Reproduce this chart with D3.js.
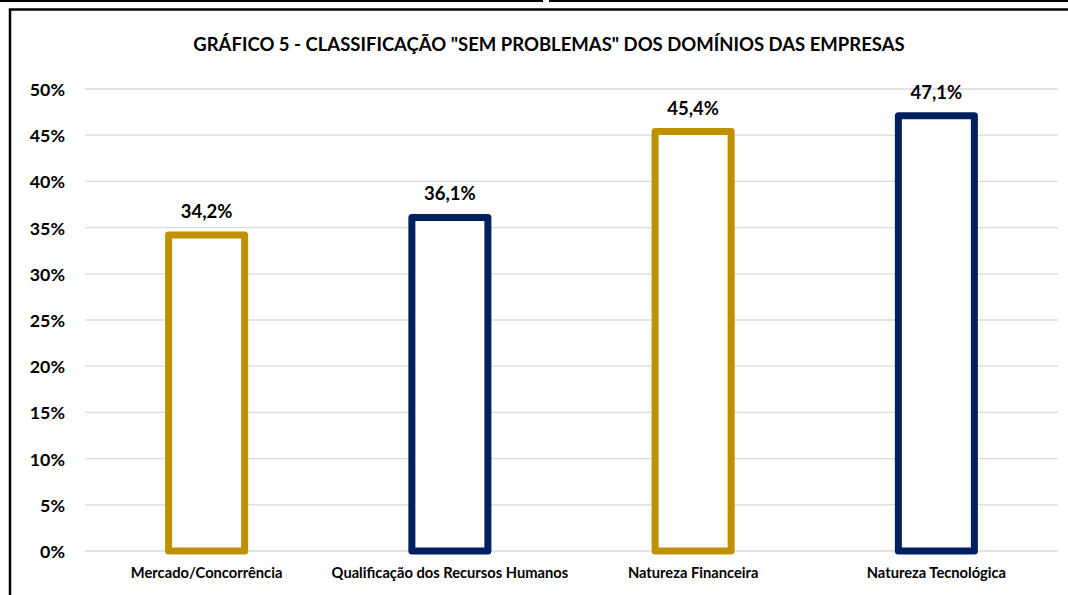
<!DOCTYPE html>
<html>
<head>
<meta charset="utf-8">
<script src="https://cdn.jsdelivr.net/npm/d3@7"></script>
<style>
  body { margin: 0; background: #fff; }
  text { font-family: Lato, "Noto Sans", sans-serif; font-weight: bold; fill: #000; }
</style>
</head>
<body>
<div id="plot"></div>
<script>
var categories = ['Mercado/Concorrência', 'Qualificação dos Recursos Humanos', 'Natureza Financeira', 'Natureza Tecnológica'];
var values = [0.342, 0.361, 0.454, 0.471];
var colors = ['#BF9000', '#002060', '#BF9000', '#002060'];
var yticks = [0, 0.05, 0.10, 0.15, 0.20, 0.25, 0.30, 0.35, 0.40, 0.45, 0.50];
var title = 'GRÁFICO 5 - CLASSIFICAÇÃO "SEM PROBLEMAS" DOS DOMÍNIOS DAS EMPRESAS';

var W = 1068, H = 595;
var m = { top: 89, right: 10, bottom: 44, left: 85 };

var svg = d3.select('#plot').append('svg')
  .attr('width', W)
  .attr('height', H);

// outer frame bits
svg.append('line').attr('x1', 0).attr('x2', 543).attr('y1', 1).attr('y2', 1)
  .attr('stroke', '#000').attr('stroke-width', 2);
svg.append('line').attr('x1', 549).attr('x2', W).attr('y1', 1).attr('y2', 1)
  .attr('stroke', '#000').attr('stroke-width', 2);
svg.append('path')
  .attr('d', 'M10,' + (H + 5) + 'L10,9.5L' + (W + 5) + ',9.5')
  .attr('fill', 'none').attr('stroke', '#000').attr('stroke-width', 2.5);

var x = d3.scaleBand().domain(categories)
  .range([m.left, W - m.right])
  .paddingInner(0.6875).paddingOuter(0.34375);
var y = d3.scaleLinear().domain([0, 0.5]).range([H - m.bottom, m.top]);

var pt = d3.formatLocale({ decimal: ',', thousands: '.', grouping: [3], currency: ['', '€'] });
var fmtTick = pt.format('.0%');
var fmtVal = pt.format('.1%');

// grid
svg.append('g').attr('class', 'grid')
  .selectAll('line').data(yticks).enter().append('line')
  .attr('x1', m.left).attr('x2', W - m.right)
  .attr('y1', function(d) { return y(d); })
  .attr('y2', function(d) { return y(d); })
  .attr('stroke', '#d9d9d9').attr('stroke-width', 1.3);

// y axis labels
var yaxis = d3.axisLeft(y).tickValues(yticks).tickFormat(fmtTick).tickSize(0).tickPadding(0);
var ya = svg.append('g').attr('transform', 'translate(65,0)').call(yaxis);
ya.select('.domain').remove();
ya.selectAll('text').attr('font-size', 17.8).attr('font-family', null).attr('dy', '0.36em');

// bars
svg.selectAll('rect.bar').data(values).enter().append('rect')
  .attr('class', 'bar')
  .attr('x', function(d, i) { return x(categories[i]); })
  .attr('width', x.bandwidth())
  .attr('y', function(d) { return y(d); })
  .attr('height', function(d) { return y(0) - y(d); })
  .attr('fill', '#fff')
  .attr('stroke', function(d, i) { return colors[i]; })
  .attr('stroke-width', 7)
  .attr('stroke-linejoin', 'round');

// value labels
svg.selectAll('text.val').data(values).enter().append('text')
  .attr('class', 'val')
  .attr('x', function(d, i) { return x(categories[i]) + x.bandwidth() / 2; })
  .attr('y', function(d) { return y(d) - 17; })
  .attr('text-anchor', 'middle')
  .attr('font-size', 18.5)
  .text(function(d) { return fmtVal(d); });

// x labels
var xaxis = d3.axisBottom(x).tickSize(0).tickPadding(0);
var xa = svg.append('g').attr('transform', 'translate(0,578)').call(xaxis);
xa.select('.domain').remove();
xa.selectAll('text').attr('font-size', 14.7).attr('font-family', null).attr('dy', 0).attr('y', 0);

// title
svg.append('text')
  .attr('x', 549).attr('y', 51)
  .attr('text-anchor', 'middle')
  .attr('font-size', 18.5)
  .text(title);
</script>
</body>
</html>
